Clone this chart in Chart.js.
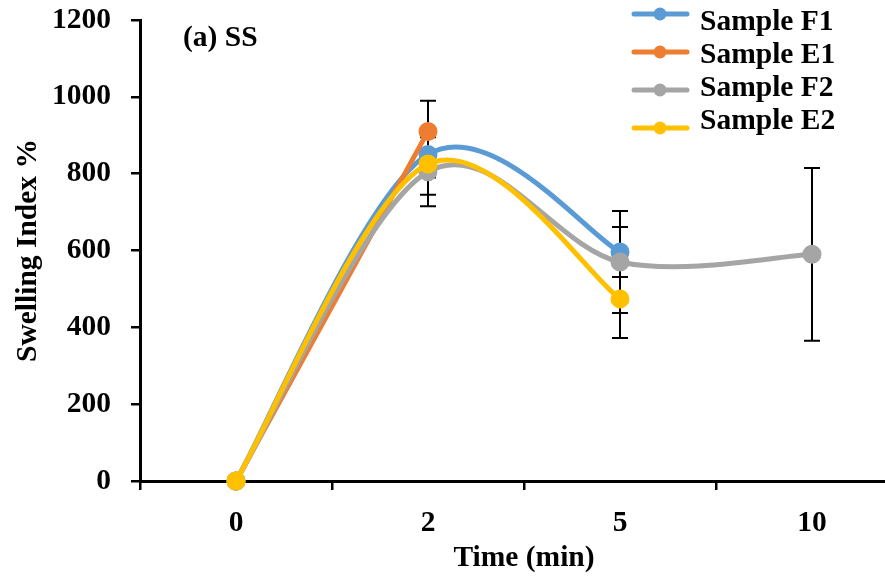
<!DOCTYPE html>
<html>
<head>
<meta charset="utf-8">
<title>Swelling Index (a) SS</title>
<script src="https://cdn.jsdelivr.net/npm/chart.js@4.4.1/dist/chart.umd.min.js"></script>
<style>
  html, body { margin: 0; padding: 0; background: #fff; overflow: hidden; }
  #wrap { width: 920px; height: 579px; }
</style>
</head>
<body>
<div id="wrap"><canvas id="chart" width="920" height="579"></canvas></div>
<script>
// Data
const times = ['0', '2', '5', '10'];
const yTicks = [0, 200, 400, 600, 800, 1000, 1200];

const sampleF1 = [0, 850, 596, null];
const sampleE1 = [0, 910, null, null];
const sampleF2 = [0, 805, 570, 590];
const sampleE2 = [0, 825, 474, null];

// +/- error per point
const errF1 = [null, 60, 65, null];
const errE1 = [null, 80, null, null];
const errF2 = [null, 90, 133, 225];
const errE2 = [null, 80, 102, null];

const panelLabel = '(a) SS';

const FONT = 'Liberation Serif';
const FSIZE = 29.5;

function series(label, data, err, color, order) {
    return {
        label: label,
        data: data,
        errors: err,
        borderColor: color,
        backgroundColor: color,
        pointBackgroundColor: color,
        pointBorderColor: color,
        borderWidth: 5,
        pointRadius: 7,
        pointHoverRadius: 7,
        tension: 0.3,
        clip: false,
        order: order
    };
}

// Excel style smoothing: control points at 1/6 of the neighbour chord
const excelSmooth = {
    id: 'excelSmooth',
    beforeDatasetsDraw(chart) {
        chart.data.datasets.forEach((ds, i) => {
            const meta = chart.getDatasetMeta(i);
            const pts = meta.data.filter(p => !p.skip);
            pts.forEach((p, k) => {
                const prev = pts[k - 1] || p;
                const next = pts[k + 1] || p;
                const dx = (next.x - prev.x) / 6;
                const dy = (next.y - prev.y) / 6;
                p.cp1x = p.x - dx; p.cp1y = p.y - dy;
                p.cp2x = p.x + dx; p.cp2y = p.y + dy;
            });
            meta.dataset._pointsUpdated = true;
        });
    }
};

// Error bars, drawn under the lines
const errorBars = {
    id: 'errorBars',
    beforeDatasetsDraw(chart) {
        const ctx = chart.ctx;
        const x = chart.scales.x;
        const y = chart.scales.y;
        ctx.save();
        ctx.strokeStyle = '#000';
        ctx.lineWidth = 2;
        chart.data.datasets.forEach(ds => {
            ds.data.forEach((v, i) => {
                const e = ds.errors[i];
                if (v === null || e === null) return;
                const px = x.getPixelForValue(i);
                const top = y.getPixelForValue(v + e);
                const bot = y.getPixelForValue(v - e);
                ctx.beginPath();
                ctx.moveTo(px, top); ctx.lineTo(px, bot);
                ctx.moveTo(px - 8, top); ctx.lineTo(px + 8, top);
                ctx.moveTo(px - 8, bot); ctx.lineTo(px + 8, bot);
                ctx.stroke();
            });
        });
        ctx.restore();
    }
};

// Legend in the top right corner plus the panel label
const cornerLegend = {
    id: 'cornerLegend',
    afterDraw(chart) {
        const ctx = chart.ctx;
        ctx.save();
        ctx.font = 'bold ' + FSIZE + 'px "' + FONT + '"';
        ctx.fillStyle = '#000';
        ctx.textBaseline = 'middle';
        ctx.textAlign = 'left';
        ctx.fillText(panelLabel, 183, 38);

        chart.data.datasets.forEach((ds, i) => {
            const ly = 14 + i * 38;
            const ty = 22 + i * 33;
            ctx.strokeStyle = ds.borderColor;
            ctx.lineWidth = 5;
            ctx.lineCap = 'round';
            ctx.beginPath();
            ctx.moveTo(634, ly); ctx.lineTo(687, ly);
            ctx.stroke();
            ctx.fillStyle = ds.borderColor;
            ctx.beginPath();
            ctx.arc(660, ly, 6.5, 0, Math.PI * 2);
            ctx.fill();
            ctx.fillStyle = '#000';
            ctx.fillText(ds.label, 700, ty);
        });
        ctx.restore();
    }
};

Chart.defaults.font.family = FONT;
Chart.defaults.font.weight = 'bold';
Chart.defaults.color = '#000';

const ctx = document.getElementById('chart').getContext('2d');
const chart = new Chart(ctx, {
    type: 'line',
    data: {
        labels: times,
        datasets: [
            series('Sample F1', sampleF1, errF1, '#5B9BD5', 3),
            series('Sample E1', sampleE1, errE1, '#ED7D31', 2),
            series('Sample F2', sampleF2, errF2, '#A5A5A5', 1),
            series('Sample E2', sampleE2, errE2, '#FFC000', 0)
        ]
    },
    options: {
        responsive: false,
        animation: false,
        devicePixelRatio: 1,
        layout: { padding: { top: 0, right: 5, bottom: 0, left: 0 } },
        plugins: {
            legend: { display: false },
            tooltip: { enabled: false }
        },
        scales: {
            x: {
                type: 'category',
                offset: true,
                grid: {
                    offset: true,
                    drawOnChartArea: false,
                    drawTicks: true,
                    tickLength: 9,
                    color: '#000',
                    lineWidth: 2.5
                },
                border: { display: true, color: '#000', width: 3 },
                ticks: { font: { size: FSIZE, weight: 'bold' }, padding: 16, maxRotation: 0 },
                title: {
                    display: true,
                    text: 'Time (min)',
                    font: { size: FSIZE, weight: 'bold' },
                    padding: { top: 0, bottom: 3 }
                },
                afterFit(scale) { scale.height = 98; }
            },
            y: {
                min: 0,
                max: 1200,
                afterBuildTicks(scale) { scale.ticks = yTicks.map(v => ({ value: v })); },
                grid: {
                    drawOnChartArea: false,
                    drawTicks: true,
                    tickLength: 9,
                    color: '#000',
                    lineWidth: 2.5
                },
                border: { display: true, color: '#000', width: 3 },
                ticks: {
                    font: { size: FSIZE, weight: 'bold' },
                    padding: 20,
                    callback: v => String(v)
                },
                title: {
                    display: true,
                    text: 'Swelling Index %',
                    font: { size: FSIZE, weight: 'bold' },
                    padding: { top: 11, bottom: 0 }
                },
                afterFit(scale) {
                    scale.width = 140;
                    scale.paddingTop = 20;
                }
            }
        }
    },
    plugins: [excelSmooth, errorBars, cornerLegend]
});
</script>
</body>
</html>
